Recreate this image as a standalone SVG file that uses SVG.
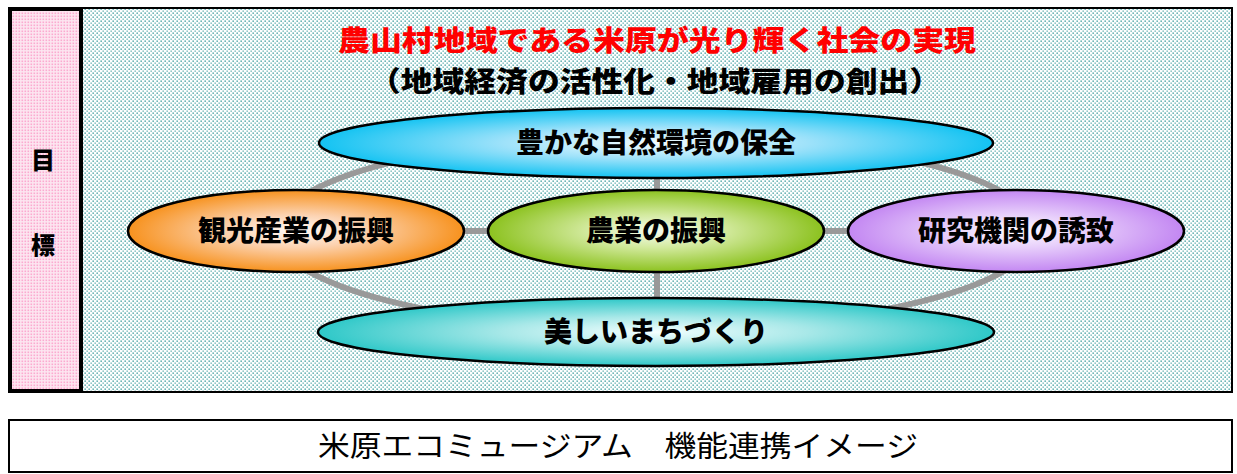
<svg xmlns="http://www.w3.org/2000/svg" width="1237" height="474" viewBox="0 0 1237 474">
<style>
.lbl{font-family:"Noto Sans CJK JP","Noto Sans",sans-serif;font-weight:900;font-size:28px;fill:#000;text-anchor:middle}
.node{stroke:#000;stroke-width:2.5}
.conn{stroke:#999;stroke-width:6;fill:none}
</style>
<defs>
<pattern id="teal" width="4" height="4" patternUnits="userSpaceOnUse">
<rect width="4" height="4" fill="#fff"/>
<rect x="0.5" y="0.5" width="1.3" height="1.3" fill="#1f8f8f"/>
<rect x="2.5" y="2.5" width="1.3" height="1.3" fill="#1f8f8f" opacity="0.75"/>
</pattern>
<pattern id="pink" width="3" height="3" patternUnits="userSpaceOnUse">
<rect width="3" height="3" fill="#fde6f1"/>
<rect x="0.5" y="0.5" width="1.6" height="1.6" fill="#fbaad0"/>
</pattern>
<radialGradient id="gBlue" cx="0.5" cy="0.5" r="0.5">
<stop offset="0" stop-color="#f4fcff"/>
<stop offset="0.45" stop-color="#9fe2fa"/>
<stop offset="1" stop-color="#13c3f2"/>
</radialGradient>
<radialGradient id="gOrange" cx="0.5" cy="0.5" r="0.5">
<stop offset="0" stop-color="#fffaf6"/>
<stop offset="0.4" stop-color="#fcd2b0"/>
<stop offset="1" stop-color="#f7921e"/>
</radialGradient>
<radialGradient id="gGreen" cx="0.5" cy="0.5" r="0.5">
<stop offset="0" stop-color="#f6fbee"/>
<stop offset="0.4" stop-color="#d3ea9f"/>
<stop offset="1" stop-color="#8cc21f"/>
</radialGradient>
<radialGradient id="gPurple" cx="0.5" cy="0.5" r="0.5">
<stop offset="0" stop-color="#fdfaff"/>
<stop offset="0.4" stop-color="#e8d0fb"/>
<stop offset="1" stop-color="#c387f2"/>
</radialGradient>
<radialGradient id="gTeal" cx="0.5" cy="0.5" r="0.5">
<stop offset="0" stop-color="#f4ffff"/>
<stop offset="0.45" stop-color="#a8e8e8"/>
<stop offset="1" stop-color="#2ec8c8"/>
</radialGradient>
</defs>
<rect width="1237" height="474" fill="#fff"/>
<g id="goal-panel">
<rect x="81" y="8" width="1151" height="384" fill="url(#teal)" stroke="#000" stroke-width="2"/>
<text x="657" y="51" font-family="'Noto Sans CJK JP','Noto Sans',sans-serif" font-weight="900" font-size="28" fill="#ff0000" text-anchor="middle" textLength="638" lengthAdjust="spacingAndGlyphs">農山村地域である米原が光り輝く社会の実現</text>
<text x="655" y="92" font-family="'Noto Sans CJK JP','Noto Sans',sans-serif" font-weight="900" font-size="28" fill="#000" text-anchor="middle" textLength="572" lengthAdjust="spacingAndGlyphs">（地域経済の活性化・地域雇用の創出）</text>
</g>
<g id="label-mokuhyo">
<rect x="10" y="9" width="71" height="382" fill="url(#pink)" stroke="#000" stroke-width="4"/>
<text x="43" y="169" class="lbl" style="font-size:24px">目</text>
<text x="43" y="254" class="lbl" style="font-size:24px">標</text>
</g>
<g id="connectors">
<ellipse cx="656" cy="232" rx="380" ry="97" class="conn"/>
<line x1="296" y1="231" x2="1016" y2="231" class="conn"/>
<line x1="657" y1="143" x2="657" y2="332" class="conn"/>
</g>
<g id="node-nature">
<ellipse cx="656" cy="143" rx="337" ry="35" fill="url(#gBlue)" class="node"/>
<text x="656" y="153" class="lbl">豊かな自然環境の保全</text>
</g>
<g id="node-tourism">
<ellipse cx="296" cy="231" rx="168" ry="41" fill="url(#gOrange)" class="node"/>
<text x="296" y="241" class="lbl">観光産業の振興</text>
</g>
<g id="node-agri">
<ellipse cx="656" cy="231" rx="168" ry="41" fill="url(#gGreen)" class="node"/>
<text x="656" y="241" class="lbl">農業の振興</text>
</g>
<g id="node-research">
<ellipse cx="1016" cy="231" rx="168" ry="41" fill="url(#gPurple)" class="node"/>
<text x="1016" y="241" class="lbl">研究機関の誘致</text>
</g>
<g id="node-town">
<ellipse cx="656" cy="332" rx="338" ry="34" fill="url(#gTeal)" class="node"/>
<text x="656" y="342" class="lbl">美しいまちづくり</text>
</g>
<g id="caption">
<rect x="9" y="420" width="1223" height="52" fill="#fff" stroke="#000" stroke-width="2"/>
<text x="618" y="457" font-family="'Noto Sans CJK JP','Noto Sans',sans-serif" font-size="29" fill="#000" text-anchor="middle" textLength="600" lengthAdjust="spacingAndGlyphs">米原エコミュージアム　機能連携イメージ</text>
</g>
</svg>
